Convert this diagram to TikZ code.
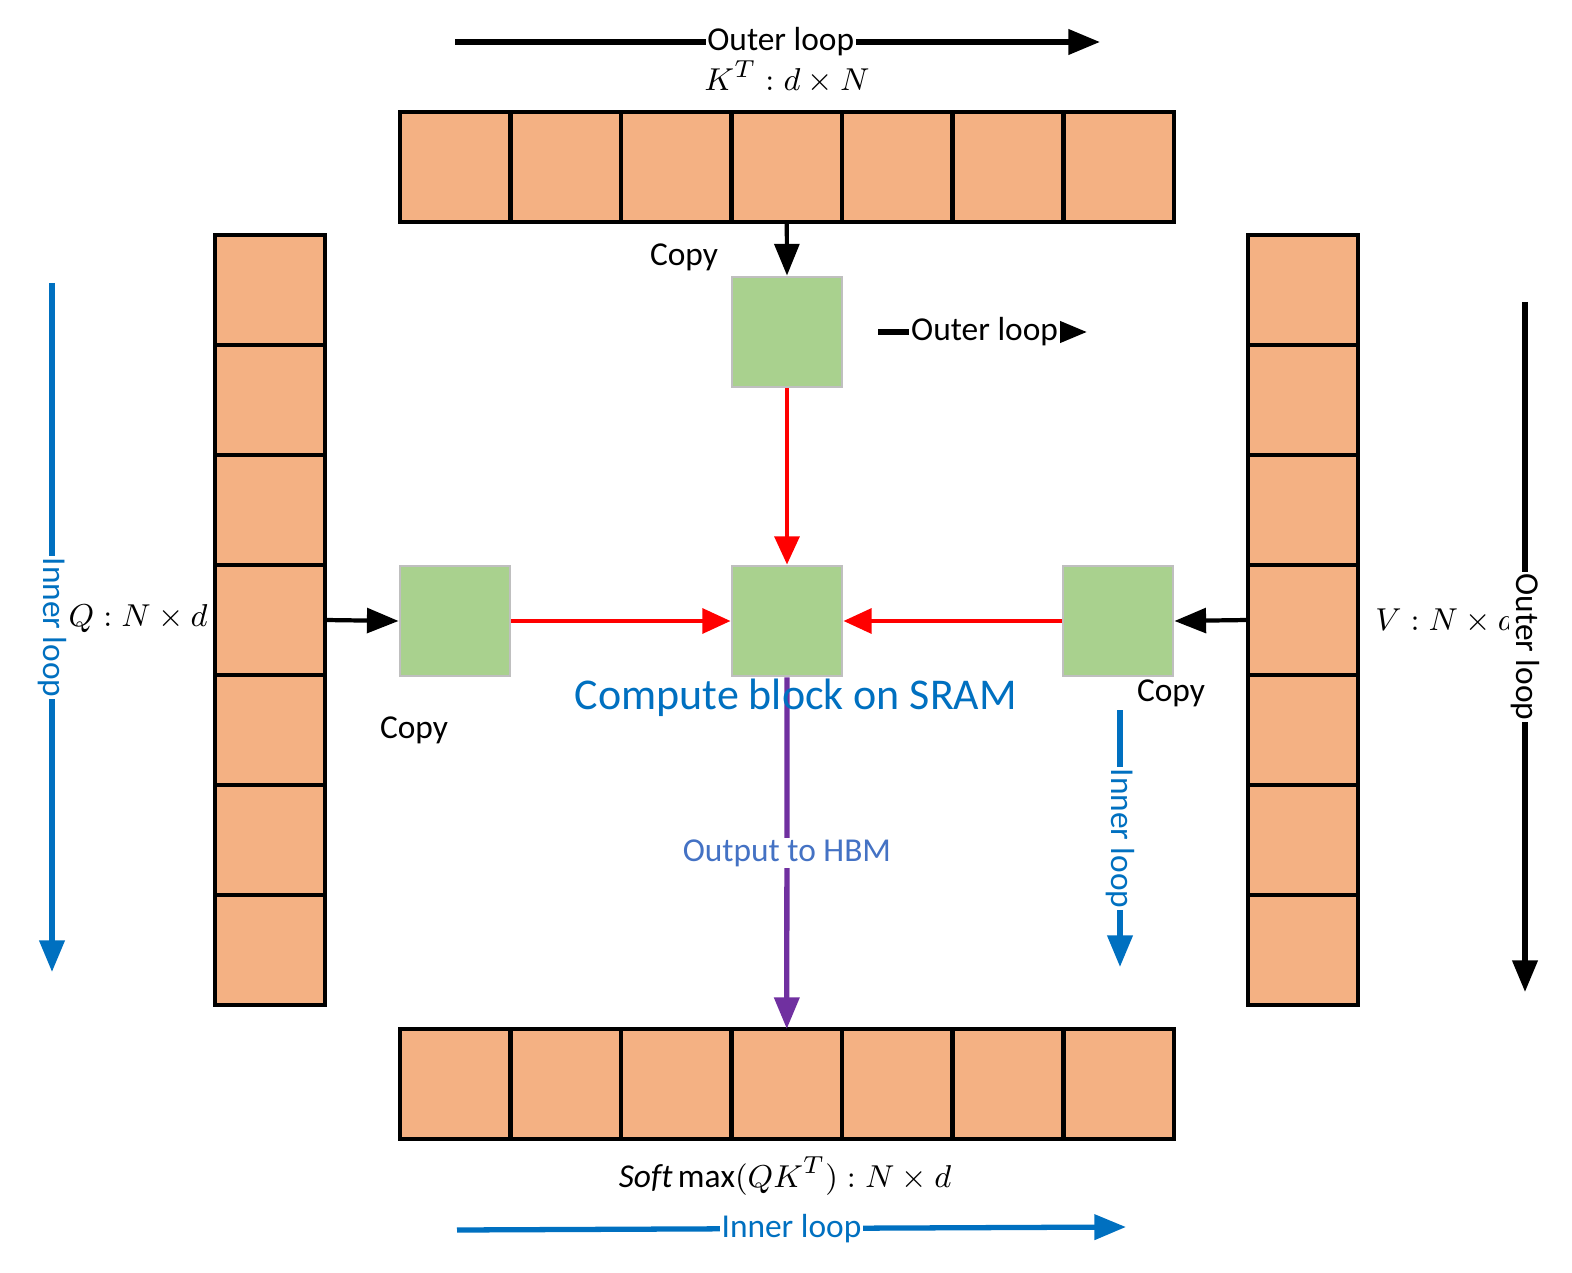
\documentclass[tikz,border=0pt]{standalone}
\usepackage{fontspec}
\setmainfont{Carlito}
\usetikzlibrary{arrows.meta}
\definecolor{cellorange}{HTML}{F4B183}
\definecolor{blockgreen}{HTML}{A9D18E}
\definecolor{loopblue}{HTML}{0070C0}
\definecolor{hbmblue}{HTML}{4472C4}
\definecolor{outpurple}{HTML}{7030A0}
\begin{document}
\begin{tikzpicture}[x=0.01cm, y=-0.01cm, font=\fontsize{9.5}{11}\selectfont, >={Triangle[length=9pt,width=7pt]}]
    \useasboundingbox (0,0) rectangle (1572,1273);

    \tikzset{
        cell/.style = {draw=black, line width=1.2pt, fill=cellorange, minimum size=1.1cm, inner sep=0pt, outer sep=0pt},
        block/.style = {draw=black!25, line width=0.8pt, fill=blockgreen, minimum size=1.1cm, inner sep=0pt},
        feed/.style = {->, line width=1.2pt},
        red flow/.style = {->, line width=1.2pt, red, >={Triangle[length=8pt,width=7pt]}},
        loop/.style = {->, line width=1.5pt},
        looplabel/.style = {fill=white, inner sep=0.5pt},
    }

    % memory tiles in HBM
    \foreach \i in {0,...,6}{
            \node[cell] (k\i) at (455+110.6*\i,167) {};
            \node[cell] (o\i) at (455+110.6*\i,1084) {};
            \node[cell] (q\i) at (270,290+110*\i) {};
            \node[cell] (v\i) at (1303,290+110*\i) {};
        }

    % blocks in SRAM
    \node[block] (kb) at (787,332) {};
    \node[block] (cb) at (787,621) {};
    \node[block] (qb) at (455,621) {};
    \node[block] (vb) at (1118,621) {};

    \draw[feed] (k3.south) -- (kb.north);
    \draw[feed] (q3.east) -- (qb.west);
    \draw[feed] (v3.west) -- (vb.east);
    \draw[red flow] (kb.south) -- (cb.north);
    \draw[red flow] (qb.east) -- (cb.west);
    \draw[red flow] (vb.west) -- (cb.east);
    \draw[->, line width=1.5pt, outpurple] (cb.south) -- node[looplabel, text=hbmblue, pos=0.5] {Output to HBM} (o3.north);

    \node[font=\fontsize{12.5}{14}\selectfont, text=loopblue] (sram) at (796,698) {Compute block on SRAM};
    \node (copyk) at (684,257) {Copy};
    \node (copyq) at (414,730) {Copy};
    \node (copyv) at (1171,693) {Copy};

    % matrix labels
    \node (kt) at (787,77) {$K^{T}:d\times N$};
    \node (qm) at (138,619) {$Q:N\times d$};
    \node (vm) at (1445,621) {$V:N\times d$};
    \node (sm) at (785,1176) {$\mathit{Soft}\max(QK^{T}):N\times d$};

    % loop directions
    \coordinate (a1) at (455,42);   \coordinate (a2) at (1100,42);
    \coordinate (b1) at (878,332);  \coordinate (b2) at (1087,332);
    \coordinate (c1) at (52,283);   \coordinate (c2) at (52,972);
    \coordinate (d1) at (1525,302); \coordinate (d2) at (1525,992);
    \coordinate (e1) at (1120,710); \coordinate (e2) at (1120,967);
    \coordinate (f1) at (457,1230); \coordinate (f2) at (1126,1227);
    \draw[loop] (a1) -- node[looplabel, pos=0.505] {Outer loop} (a2);
    \draw[loop] (b1) -- node[looplabel, pos=0.51] {Outer loop} (b2);
    \draw[loop, loopblue] (c1) -- node[looplabel, rotate=-90, pos=0.5] {Inner loop} (c2);
    \draw[loop] (d1) -- node[looplabel, rotate=-90, pos=0.5] {Outer loop} (d2);
    \draw[loop, loopblue] (e1) -- node[looplabel, rotate=-90, pos=0.5] {Inner loop} (e2);
    \draw[loop, loopblue] (f1) -- node[looplabel, text=loopblue, pos=0.5] {Inner loop} (f2);
\end{tikzpicture}
\end{document}
